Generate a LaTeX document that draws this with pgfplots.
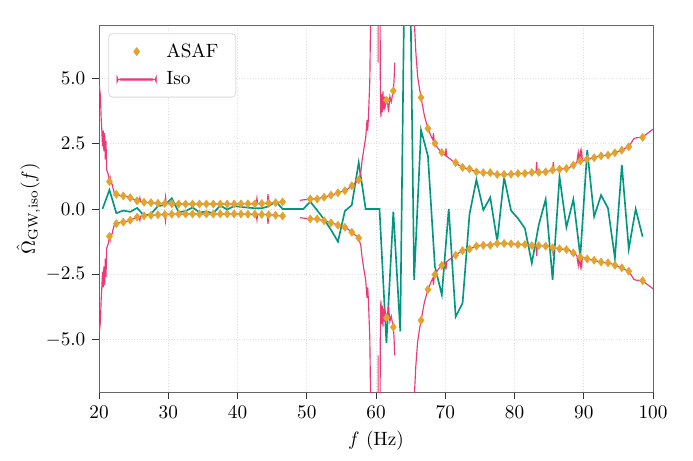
\documentclass[border=0pt]{standalone}
\usepackage{pgfplots}
\usepackage{pgfplotstable}
\pgfplotsset{compat=1.18}

\definecolor{isopink}{RGB}{236,58,118}
\definecolor{asafgold}{RGB}{226,164,44}
\definecolor{estteal}{RGB}{0,150,128}

% sigma of the isotropic search, 1e-6 units (drawn as +s and -s)
\pgfplotstableread{
f s
20.05 4.7
20.2 4.3
20.3 3.5
20.4 3.0
20.5 2.4
20.6 3.0
20.7 2.2
20.8 2.9
20.9 1.9
21.0 2.6
21.1 1.5
21.3 1.35
21.5 1.1
21.6 1.2
21.7 0.98
21.9 0.95
22.0 0.8
22.2 0.62
22.5 0.56
23.0 0.52
23.5 0.50
24.0 0.47
24.5 0.43
25.0 0.37
25.5 0.32
25.8 0.30
25.9 0.43
26.0 0.28
26.5 0.26
27.0 0.25
27.5 0.24
28.0 0.23
28.5 0.22
29.0 0.21
29.5 0.21
29.6 0.46
29.7 0.21
30.0 0.20
31 0.195
32 0.19
33 0.19
34 0.19
35 0.19
36 0.19
37 0.19
38 0.19
39 0.19
40 0.19
41 0.195
42 0.2
42.7 0.2
42.8 0.41
42.9 0.2
43.5 0.21
44.3 0.22
44.4 0.57
44.5 0.22
45 0.23
45.5 0.24
46 0.26
46.5 0.27
46.7 0.28
}\isoA

\pgfplotstableread{
f s
49.0 0.33
49.5 0.35
50.0 0.36
50.5 0.38
51.0 0.38
51.5 0.39
52.0 0.42
52.5 0.45
53.0 0.49
53.5 0.53
54.0 0.57
54.5 0.62
55.0 0.66
55.5 0.70
56.0 0.78
56.5 0.89
57.0 1.0
57.5 1.11
57.8 1.4
58.0 1.87
58.3 2.4
58.5 2.7
58.7 3.4
58.8 3.0
58.9 3.5
59.0 4.2
59.1 4.9
59.3 9
59.6 40
60.25 40
60.3 5.6
60.35 40
60.55 40
60.6 5.3
60.7 3.5
60.8 4.4
60.9 3.7
61.0 4.5
61.1 3.8
61.2 4.3
61.3 3.9
61.5 4.16
61.7 4.0
61.8 3.7
62.0 4.3
62.2 4.1
62.4 4.4
62.5 4.52
62.6 4.9
62.7 5.6
}\isoB

\pgfplotstableread{
f s
62.9 7.2
63.0 30
65.0 30
65.5 7.3
65.75 6.0
66.0 5.1
66.25 4.65
66.5 4.26
67.0 3.55
67.5 3.08
68.0 2.75
68.2 2.65
68.3 2.9
68.4 2.6
68.5 2.51
69.0 2.3
69.5 2.16
70.0 2.05
70.1 2.32
70.2 2.02
70.5 1.95
71.0 1.85
71.5 1.77
72.0 1.67
72.5 1.59
73.0 1.55
73.5 1.53
74.0 1.47
74.5 1.42
75.0 1.40
75.5 1.39
76.0 1.38
76.5 1.37
77.0 1.34
77.5 1.32
78.0 1.32
78.5 1.31
79.0 1.32
79.5 1.33
80.0 1.34
80.5 1.36
81.0 1.36
81.5 1.36
82.0 1.38
82.5 1.40
83.1 1.40
83.2 1.8
83.3 1.40
83.5 1.40
84.0 1.41
84.5 1.42
85.0 1.45
85.5 1.49
85.6 1.8
85.7 1.49
86.0 1.50
86.5 1.52
87.0 1.54
87.5 1.55
88.0 1.60
88.5 1.68
89.0 1.78
89.2 2.15
89.3 1.9
89.5 2.2
89.6 2.0
89.7 2.19
89.8 1.85
90.0 1.86
90.5 1.91
91.0 1.94
91.5 1.96
92.0 2.0
92.5 2.03
93.0 2.05
93.5 2.06
94.0 2.1
94.5 2.15
95.0 2.2
95.5 2.25
96.0 2.32
96.5 2.40
96.8 2.5
97.2 2.68
97.5 2.72
98.0 2.73
98.5 2.76
99.0 2.85
99.5 2.95
100.0 3.05
}\isoC

% ASAF sigma per 1 Hz bin (drawn as +s and -s)
\pgfplotstableread{
f s
21.5 1.05
22.5 0.56
23.5 0.50
24.5 0.43
25.5 0.31
26.5 0.26
27.5 0.24
28.5 0.22
29.5 0.21
30.5 0.20
31.5 0.19
32.5 0.19
33.5 0.19
34.5 0.19
35.5 0.19
36.5 0.19
37.5 0.19
38.5 0.19
39.5 0.19
40.5 0.195
41.5 0.2
42.5 0.2
43.5 0.21
44.5 0.22
45.5 0.24
46.5 0.27
50.5 0.38
51.5 0.38
52.5 0.45
53.5 0.53
54.5 0.62
55.5 0.70
56.5 0.89
57.5 1.11
61.5 4.16
62.5 4.52
66.5 4.26
67.5 3.08
68.5 2.51
69.5 2.16
71.5 1.77
72.5 1.59
73.5 1.53
74.5 1.42
75.5 1.39
76.5 1.39
77.5 1.32
78.5 1.32
79.5 1.33
80.5 1.36
81.5 1.36
82.5 1.40
83.5 1.40
84.5 1.42
85.5 1.49
86.5 1.52
87.5 1.55
88.5 1.68
89.5 1.84
90.5 1.91
91.5 1.96
92.5 2.03
93.5 2.06
94.5 2.15
95.5 2.25
96.5 2.38
98.5 2.74
}\asaf

% point estimate
\pgfplotstableread{
f y
20.5 0
21.5 0.73
22.5 -0.16
23.5 -0.06
24.5 -0.11
25.5 0.04
26.5 -0.26
27.5 -0.19
28.5 0.11
29.5 0.15
30.5 0.41
31.5 -0.12
32.5 -0.08
33.5 0.06
34.5 -0.13
35.5 -0.10
36.5 -0.16
37.5 0.13
38.5 -0.02
39.5 0.11
40.5 0.08
41.5 0.05
42.5 0.03
43.5 0.03
44.5 0.10
45.5 0.30
46.5 0
47.5 0
48.5 0
49.5 0
50.5 0.28
51.5 -0.05
52.5 -0.40
53.5 -0.80
54.5 -1.25
55.5 -0.08
56.5 0.15
57.5 1.78
58.5 0
59.5 0
60.5 0
61.5 -5.13
62.5 -0.10
63.5 -4.68
64.5 18
65.5 -2.71
66.5 3.02
67.5 2.02
68.5 -2.20
69.5 -3.28
70.5 0
71.5 -4.12
72.5 -3.60
73.5 -0.20
74.5 1.12
75.5 -0.04
76.5 0.44
77.5 -1.23
78.5 1.21
79.5 -0.06
80.5 -0.36
81.5 -0.74
82.5 -2.07
83.5 -0.61
84.5 0.37
85.5 -2.71
86.5 1.23
87.5 -0.70
88.5 0.37
89.5 -1.82
90.5 2.25
91.5 -0.29
92.5 0.53
93.5 0.03
94.5 -1.88
95.5 1.68
96.5 -1.53
97.5 0
98.5 -1.06
}\est

\begin{document}
\begin{tikzpicture}
  \begin{axis}[
    scale only axis,
    width=288pt, height=190.3pt,
    xmin=20, xmax=100,
    ymin=-7, ymax=7,
    xtick={20,30,...,100},
    ytick={-5,-2.5,0,2.5,5},
    yticklabel style={/pgf/number format/fixed,
                      /pgf/number format/fixed zerofill,
                      /pgf/number format/precision=1},
    xtick pos=bottom, ytick pos=left,
    tick align=outside,
    major tick length=3.6pt,
    tick style={black!80, line width=0.5pt},
    axis line style={black!60, line width=0.5pt},
    grid=major,
    major grid style={gray!25, densely dotted, line width=0.4pt},
    xlabel={$f$ (Hz)},
    ylabel={$\hat{\Omega}_{\mathrm{GW,iso}}(f)$},
    ylabel shift=-4pt,
    legend cell align=left,
    legend style={at={(0.017,0.98)}, anchor=north west,
                  draw=gray!30, rounded corners=2pt,
                  inner xsep=4pt, inner ysep=3pt,
                  row sep=2pt,
                  nodes={inner xsep=5pt}},
    legend image code/.code={
      \draw[mark repeat=2,mark phase=2] plot coordinates {(0cm,0cm) (0.36cm,0cm) (0.72cm,0cm)};},
  ]
    \addlegendimage{only marks, mark=diamond*, mark size=2pt,
                    color=asafgold}
    \addlegendentry{ASAF}
    % legend line as a thin filled bar
    \addlegendimage{legend image code/.code={
      \fill[isopink] (0cm,-0.35pt) rectangle (0.72cm,0.35pt);}}
    \addlegendentry{Iso}

    \addplot[estteal, line width=0.85pt, forget plot] table[x=f, y=y] {\est};

    \addplot[isopink, line width=0.6pt, forget plot] table[x=f, y=s] {\isoA};
    \addplot[isopink, line width=0.6pt, forget plot] table[x=f, y expr=-\thisrow{s}] {\isoA};
    \addplot[isopink, line width=0.6pt, forget plot] table[x=f, y=s] {\isoB};
    \addplot[isopink, line width=0.6pt, forget plot] table[x=f, y expr=-\thisrow{s}] {\isoB};
    \addplot[isopink, line width=0.6pt, forget plot] table[x=f, y=s] {\isoC};
    \addplot[isopink, line width=0.6pt, forget plot] table[x=f, y expr=-\thisrow{s}] {\isoC};

    \addplot[only marks, mark=diamond*, mark size=2pt, color=asafgold, forget plot]
      table[x=f, y=s] {\asaf};
    \addplot[only marks, mark=diamond*, mark size=2pt, color=asafgold, forget plot]
      table[x=f, y expr=-\thisrow{s}] {\asaf};

    \node[anchor=south west, inner sep=1pt] at (rel axis cs:0,1) {$\times 10^{-6}$};
  \end{axis}
  \pgfresetboundingbox
  \path ([shift={(-51.5pt,-35.4pt)}]current axis.south west)
        rectangle ([shift={(20.8pt,13.5pt)}]current axis.north east);
\end{tikzpicture}
\end{document}
